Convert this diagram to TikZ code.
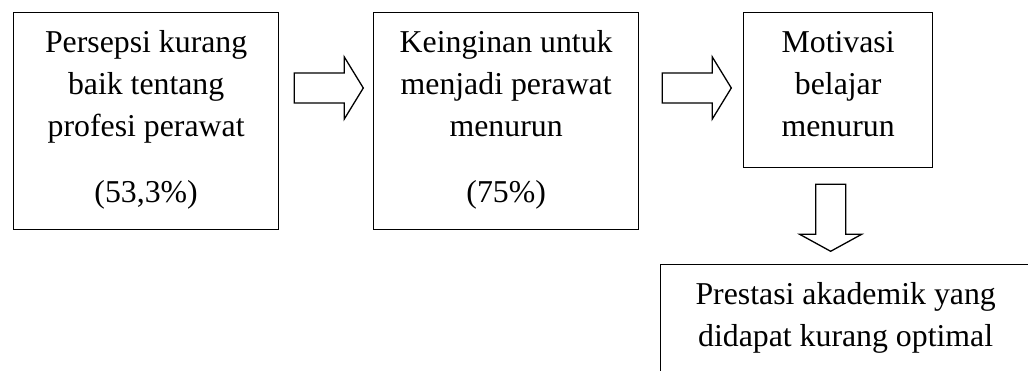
\documentclass[tikz,border=0pt]{standalone}
\usepackage{fontspec}
\setmainfont{Liberation Serif}
\usetikzlibrary{calc}
\begin{document}
\begin{tikzpicture}[x=1pt,y=1pt,
  box/.style={draw=black, line width=1.3pt, inner sep=0pt, anchor=north west},
  % multi-line texts are placed by the baseline of their last line
  txt/.style={align=center, inner sep=0pt, anchor=base,
              font=\fontsize{31.8}{42}\selectfont},
  blockarrow/.style={draw=black, line width=1.3pt, fill=white, line join=miter}]
\useasboundingbox (0,0) rectangle (1028,-371);
\clip (0,0) rectangle (1028,-371);

% boxes
\node[box, minimum width=265pt, minimum height=217pt] (b1) at (13,-12) {};
\node[box, minimum width=265pt, minimum height=217pt] (b2) at (373,-12) {};
\node[box, minimum width=189pt, minimum height=155pt] (b3) at (743,-12) {};
\node[box, minimum width=370pt, minimum height=140pt] (b4) at (660,-264) {};

% box texts
\node[txt] (t1) at ($(b1.north)+(0,-191)$)
  {Persepsi kurang\\baik tentang\\profesi perawat\\[24pt](53,3\%)};
\node[txt] (t2) at ($(b2.north)+(0,-191)$)
  {Keinginan untuk\\menjadi perawat\\menurun\\[24pt](75\%)};
\node[txt] (t3) at ($(b3.north)+(0,-125)$)
  {Motivasi\\belajar\\menurun};
\node[txt] (t4) at ($(b4.north)+(0,-82)$)
  {Prestasi akademik yang\\didapat kurang optimal};

% block arrows between boxes
\draw[blockarrow] ($(b1.north east)+(15,-61)$) -- ++(50,0) -- ++(0,16)
  -- ++(19,-31) -- ++(-19,-31) -- ++(0,16) -- ++(-50,0) -- cycle;
\draw[blockarrow] ($(b2.north east)+(23,-61)$) -- ++(50,0) -- ++(0,16)
  -- ++(19,-31) -- ++(-19,-31) -- ++(0,16) -- ++(-50,0) -- cycle;
\draw[blockarrow] ($(b3.south)+(-22.5,-16)$) -- ++(30,0) -- ++(0,-50)
  -- ++(16,0) -- ++(-31,-17) -- ++(-31,17) -- ++(16,0) -- cycle;
\end{tikzpicture}
\end{document}
